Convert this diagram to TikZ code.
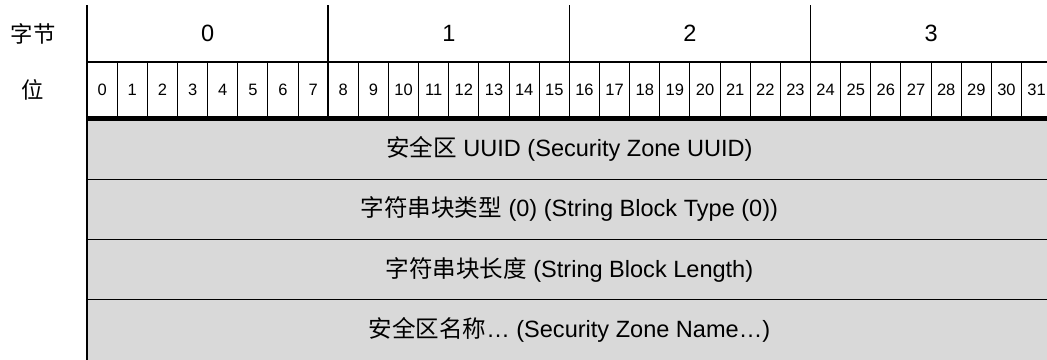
\documentclass[tikz,border=0pt]{standalone}
\usepackage{fontspec}
\setmainfont{Liberation Sans}
\newfontfamily\cjk{Noto Sans CJK SC}
\definecolor{fieldgray}{HTML}{D9D9D9}

\begin{document}
\begin{tikzpicture}[
  bytenum/.style={font=\fontsize{20}{24}\selectfont},
  bitnum/.style={font=\fontsize{14}{16}\selectfont},
  rowlabel/.style={font=\cjk\fontsize{19}{22}\selectfont},
  fieldtext/.style={font=\fontsize{20}{24}\selectfont},
  bitline/.style={line width=0.85pt},
  byteline/.style={line width=1.5pt},
  rowline/.style={line width=0.9pt}
]
% Set the frame (the last bit cell runs off the right edge)
\def\cellsize{0.9} % Each bit cell is 0.9 cm wide
\useasboundingbox (-2.6, -7.19) rectangle (28.66, 3.55);
\clip (-2.6, -7.19) rectangle (28.66, 3.55);

% Draw the grey field rows
\draw[rowline, fill=fieldgray] (0.0, -1.8) rectangle +(28.8, 1.8);
\node[fieldtext] (fielduuid) at (14.4, -0.9) {{\cjk 安全区} UUID (Security Zone UUID)};
\draw[rowline, fill=fieldgray] (0.0, -3.6) rectangle +(28.8, 1.8);
\node[fieldtext] (fieldtype) at (14.4, -2.7) {{\cjk 字符串块类型} (0) (String Block Type (0))};
\draw[rowline, fill=fieldgray] (0.0, -5.4) rectangle +(28.8, 1.8);
\node[fieldtext] (fieldlength) at (14.4, -4.5) {{\cjk 字符串块长度} (String Block Length)};
\draw[rowline, fill=fieldgray] (0.0, -7.5) rectangle +(28.8, 2.1);
\node[fieldtext] (fieldname) at (14.4, -6.3) {{\cjk 安全区名称}… (Security Zone Name…)};

% Draw the byte row
\draw[line width=1.7pt] (0.0, 3.4) -- (0.0, -7.5);
\draw[byteline] (7.2, 3.4) -- (7.2, 0.0);
\draw[byteline] (14.4, 3.4) -- (14.4, 0.0);
\draw[byteline] (21.6, 3.4) -- (21.6, 0.0);
\draw[byteline] (28.8, 3.4) -- (28.8, 0.0);
\draw[line width=1.7pt] (0.0, 1.7) -- (28.8, 1.7);
\node[rowlabel] (labelbyte) at (-1.61, 2.55) {字节};
\node[bytenum] (byte0) at (3.6, 2.55) {0};
\node[bytenum] (byte1) at (10.8, 2.55) {1};
\node[bytenum] (byte2) at (18.0, 2.55) {2};
\node[bytenum] (byte3) at (25.2, 2.55) {3};

% Draw the bit row
\node[rowlabel] (labelbit) at (-1.63, 0.88) {位};
\draw[bitline] (0.9, 1.7) -- (0.9, 0.0);
\draw[bitline] (1.8, 1.7) -- (1.8, 0.0);
\draw[bitline] (2.7, 1.7) -- (2.7, 0.0);
\draw[bitline] (3.6, 1.7) -- (3.6, 0.0);
\draw[bitline] (4.5, 1.7) -- (4.5, 0.0);
\draw[bitline] (5.4, 1.7) -- (5.4, 0.0);
\draw[bitline] (6.3, 1.7) -- (6.3, 0.0);
\draw[bitline] (8.1, 1.7) -- (8.1, 0.0);
\draw[bitline] (9.0, 1.7) -- (9.0, 0.0);
\draw[bitline] (9.9, 1.7) -- (9.9, 0.0);
\draw[bitline] (10.8, 1.7) -- (10.8, 0.0);
\draw[bitline] (11.7, 1.7) -- (11.7, 0.0);
\draw[bitline] (12.6, 1.7) -- (12.6, 0.0);
\draw[bitline] (13.5, 1.7) -- (13.5, 0.0);
\draw[bitline] (15.3, 1.7) -- (15.3, 0.0);
\draw[bitline] (16.2, 1.7) -- (16.2, 0.0);
\draw[bitline] (17.1, 1.7) -- (17.1, 0.0);
\draw[bitline] (18.0, 1.7) -- (18.0, 0.0);
\draw[bitline] (18.9, 1.7) -- (18.9, 0.0);
\draw[bitline] (19.8, 1.7) -- (19.8, 0.0);
\draw[bitline] (20.7, 1.7) -- (20.7, 0.0);
\draw[bitline] (22.5, 1.7) -- (22.5, 0.0);
\draw[bitline] (23.4, 1.7) -- (23.4, 0.0);
\draw[bitline] (24.3, 1.7) -- (24.3, 0.0);
\draw[bitline] (25.2, 1.7) -- (25.2, 0.0);
\draw[bitline] (26.1, 1.7) -- (26.1, 0.0);
\draw[bitline] (27.0, 1.7) -- (27.0, 0.0);
\draw[bitline] (27.9, 1.7) -- (27.9, 0.0);
\node[bitnum] (bit0) at (0.45, 0.88) {0};
\node[bitnum] (bit1) at (1.35, 0.88) {1};
\node[bitnum] (bit2) at (2.25, 0.88) {2};
\node[bitnum] (bit3) at (3.15, 0.88) {3};
\node[bitnum] (bit4) at (4.05, 0.88) {4};
\node[bitnum] (bit5) at (4.95, 0.88) {5};
\node[bitnum] (bit6) at (5.85, 0.88) {6};
\node[bitnum] (bit7) at (6.75, 0.88) {7};
\node[bitnum] (bit8) at (7.65, 0.88) {8};
\node[bitnum] (bit9) at (8.55, 0.88) {9};
\node[bitnum] (bit10) at (9.45, 0.88) {10};
\node[bitnum] (bit11) at (10.35, 0.88) {11};
\node[bitnum] (bit12) at (11.25, 0.88) {12};
\node[bitnum] (bit13) at (12.15, 0.88) {13};
\node[bitnum] (bit14) at (13.05, 0.88) {14};
\node[bitnum] (bit15) at (13.95, 0.88) {15};
\node[bitnum] (bit16) at (14.85, 0.88) {16};
\node[bitnum] (bit17) at (15.75, 0.88) {17};
\node[bitnum] (bit18) at (16.65, 0.88) {18};
\node[bitnum] (bit19) at (17.55, 0.88) {19};
\node[bitnum] (bit20) at (18.45, 0.88) {20};
\node[bitnum] (bit21) at (19.35, 0.88) {21};
\node[bitnum] (bit22) at (20.25, 0.88) {22};
\node[bitnum] (bit23) at (21.15, 0.88) {23};
\node[bitnum] (bit24) at (22.05, 0.88) {24};
\node[bitnum] (bit25) at (22.95, 0.88) {25};
\node[bitnum] (bit26) at (23.85, 0.88) {26};
\node[bitnum] (bit27) at (24.75, 0.88) {27};
\node[bitnum] (bit28) at (25.65, 0.88) {28};
\node[bitnum] (bit29) at (26.55, 0.88) {29};
\node[bitnum] (bit30) at (27.45, 0.88) {30};
\node[bitnum] (bit31) at (28.35, 0.88) {31};

% Thick line between header and fields
\draw[line width=4.25pt] (0.0, 0.0) -- (28.8, 0.0);
\end{tikzpicture}
\end{document}
